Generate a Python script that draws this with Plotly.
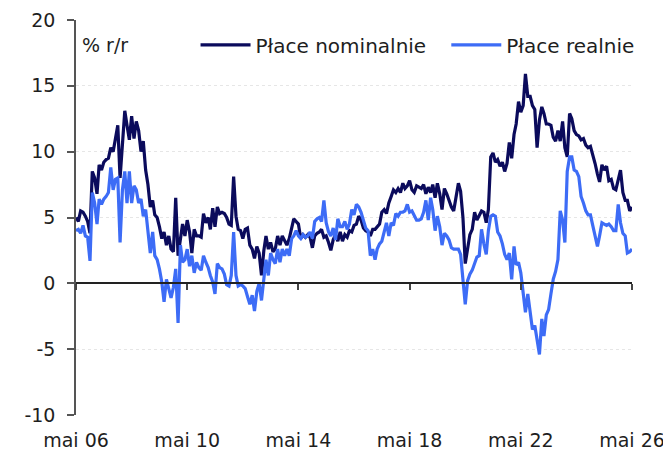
import pandas as pd
import plotly.graph_objects as go

# Monthly data, May 2006 - May 2026 (% r/r)
start_month = "2006-05-01"
nominal = [
    5.0, 4.7, 5.5, 5.4, 5.1, 4.7, 3.8, 8.5, 8.0, 6.8,
    9.0, 8.6, 9.2, 9.4, 9.5, 10.3, 10.0, 11.0, 12.0, 8.0,
    11.0, 13.1, 12.0, 10.9, 12.7, 11.0, 12.3, 11.6, 10.0, 10.8,
    8.6, 7.5, 5.8, 6.3, 5.2, 5.0, 4.3, 3.4, 3.9, 2.9,
    3.6, 2.6, 2.4, 6.5, 2.1, 3.2, 4.5, 3.6,
    4.8, 3.9, 2.3, 4.1, 3.6, 3.6, 3.5, 5.3, 4.6, 5.0,
    4.1, 5.7, 4.3, 5.8, 5.3, 5.4, 5.3, 5.0, 4.5, 4.4,
    8.1, 5.1, 4.1, 4.0, 3.4, 4.1, 4.2, 2.9, 2.6, 1.9,
    2.8, 2.3, 0.6, 2.5, 3.6, 2.6, 3.1, 2.4, 2.6, 3.6,
    2.9, 3.6, 3.2, 2.9, 3.4, 4.1, 4.9, 4.7, 4.5,
    3.4, 3.7, 3.5, 3.7, 3.5, 2.7, 3.6, 3.8, 3.9, 4.1,
    3.5, 3.6, 3.1, 2.5, 3.3, 3.7, 3.2, 3.9, 3.2, 3.7,
    3.5, 4.0, 3.9, 4.4, 4.5, 5.1, 4.8, 4.2, 4.0, 3.9,
    3.6, 4.1, 4.1, 4.3, 4.5, 5.4, 5.6, 5.3, 6.1, 6.6,
    7.1, 6.9, 7.2, 6.9, 7.6, 7.2, 7.4, 7.8, 7.1, 6.9,
    7.4, 7.3,
    7.2, 7.5, 6.8, 7.3, 6.9, 7.5, 6.5, 7.6, 6.8, 5.6,
    7.2, 6.8, 6.3, 5.8, 5.5, 6.6, 7.6, 7.0, 5.0, 1.5,
    2.7, 3.7, 4.1, 5.4, 4.8, 5.1, 5.5, 5.4, 4.6, 5.6,
    9.6, 9.9, 9.2, 9.4, 8.9, 9.2, 8.5, 9.1, 10.7,
    9.5, 11.3, 12.1, 13.8, 13.0, 13.5, 15.9, 14.2, 14.2, 13.5,
    13.2, 10.3, 12.4, 13.4, 12.9, 12.1, 12.1, 12.0, 11.1, 10.8,
    11.6, 10.8, 12.3, 10.3, 9.6, 12.9, 12.5, 11.6, 11.3, 11.2,
    10.9, 11.0, 10.5, 10.3, 10.4, 9.8, 9.1, 8.3, 7.7, 9.0,
    8.6, 8.9, 7.8, 7.9, 7.2, 7.1, 7.9, 8.6, 6.9, 6.3,
    6.3, 5.5, 5.8,
]
real = [
    4.0, 4.1, 3.8, 4.4, 3.6, 3.5, 1.7, 6.9, 6.1, 4.5,
    6.4, 6.0, 6.4, 6.6, 6.9, 8.8, 7.1, 7.9, 8.0, 3.1,
    7.1, 8.5, 6.1, 8.5, 6.1, 7.4, 7.1, 6.1, 6.4, 5.1,
    5.6, 4.1, 2.3, 3.9, 2.1, 1.8, 1.1, 0.1, -1.4, 0.3,
    -0.4, -1.1, -0.3, 1.1, -3.0, 2.9, 1.6, 1.8,
    2.6, 1.3, 2.1, 0.8, 1.6, 1.2, 1.0, 2.1, 1.6, 1.2,
    0.6, 0.1, -0.8, 1.5, 1.2, 1.1, 0.7, -0.1, -0.2, 0.6,
    3.9, 0.6, -0.2, -0.1, -0.2, -0.4, -1.0, -1.6, -0.9, -2.1,
    -0.6, 0.0, -1.3, 0.2, 1.8, 0.6, 2.3, 1.8, 1.5, 2.6,
    1.6, 2.6, 2.1, 2.6, 2.1, 3.4, 3.6, 4.0, 3.6,
    3.4, 3.7, 3.5, 3.6, 3.9, 3.4, 4.7, 4.9, 5.0, 4.7,
    6.3, 4.6, 3.9, 3.6, 4.2, 3.3, 4.9, 4.3, 4.3, 4.7,
    4.1, 4.5, 5.6, 5.2, 6.0, 5.8, 5.4, 4.8, 4.2, 4.0,
    2.1, 2.6, 1.8, 2.6, 3.0, 3.2, 3.9, 4.6, 3.6, 4.6,
    4.4, 5.3, 5.1, 5.4, 5.4, 5.5, 6.0, 5.4, 5.5, 5.2,
    4.8, 4.8,
    4.9, 5.4, 6.3, 4.8, 6.5, 5.6, 4.0, 5.1, 4.3, 2.9,
    3.8, 3.6, 3.3, 2.7, 2.6, 2.6, 2.6, 2.2, 0.0, -1.6,
    0.2, 0.7, 1.0, 1.5, 2.0, 2.1, 4.1, 3.0, 2.2, 4.0,
    5.1, 5.2, 5.1, 3.9, 3.6, 3.0, 2.2, 1.8, 2.3,
    0.3, 2.8, 1.4, 1.6, 0.8, -0.7, -2.2, -0.8, -2.4, -3.5,
    -3.2, -4.2, -5.4, -2.7, -4.0, -2.4, -2.0, -0.8, 0.3, 0.9,
    1.8, 5.5, 4.8, 3.1, 8.5, 9.6, 9.6, 8.6, 8.5, 8.1,
    6.6, 6.1, 5.5, 5.2, 5.2, 4.4, 3.7, 2.8, 3.6, 4.6,
    4.5, 4.4, 4.5, 4.3, 4.0, 4.0, 6.0, 4.6, 3.8, 3.6,
    2.3, 2.4, 2.6,
]
tick_dates = ["2006-05-01", "2010-05-01", "2014-05-01", "2018-05-01", "2022-05-01", "2026-05-01"]
tick_labels = ["mai 06", "mai 10", "mai 14", "mai 18", "mai 22", "mai 26"]
y_ticks = [-10, -5, 0, 5, 10, 15, 20]
y_tick_labels = ["-10", "-5", "0", "5", "10", "15", "20"]
series_names = ["Płace nominalnie", "Płace realnie"]
unit_label = "% r/r"

dates = pd.date_range(start_month, periods=len(nominal), freq="MS")

NAVY = "#0b0b5c"
BLUE = "#3d6cf6"
TXT = "#1e1e1e"
FONT = "DejaVu Sans"

fig = go.Figure()
fig.add_trace(go.Scatter(x=dates, y=nominal, name=series_names[0], mode="lines",
                         line=dict(color=NAVY, width=3.2), legend="legend"))
fig.add_trace(go.Scatter(x=dates, y=real, name=series_names[1], mode="lines",
                         line=dict(color=BLUE, width=3.2), legend="legend2"))
# helper (invisible) trace so the zero-line axis is drawn
fig.add_trace(go.Scatter(x=[dates[0]], y=[None], xaxis="x2", showlegend=False,
                         hoverinfo="skip", mode="lines"))

leg_common = dict(orientation="h", yanchor="middle", xanchor="left", y=0.937,
                  bgcolor="rgba(0,0,0,0)", font=dict(size=20, color=TXT), itemwidth=50)

xrange = [tick_dates[0], tick_dates[-1]]
fig.update_layout(
    width=663, height=444,
    margin=dict(l=68, r=39, t=12, b=37, autoexpand=False),
    paper_bgcolor="white", plot_bgcolor="white",
    font=dict(family=FONT, size=19, color=TXT),
    showlegend=True,
    legend=dict(x=0.215, **leg_common),
    legend2=dict(x=0.666, **leg_common),
    xaxis=dict(type="date", range=xrange, tickvals=tick_dates, ticktext=tick_labels,
               showgrid=False, zeroline=False, showline=False, automargin=False,
               tickfont=dict(size=19),
               ticks="outside", ticklen=8, tickcolor="rgba(0,0,0,0)"),
    xaxis2=dict(type="date", range=xrange, overlaying="x", anchor="free", position=1/3,
                tickvals=tick_dates, showticklabels=False, showgrid=False, zeroline=False,
                showline=True, linecolor="#222222", linewidth=1.5, automargin=False,
                ticks="outside", ticklen=6, tickcolor="#444444", tickwidth=1.5),
    yaxis=dict(range=[-10, 20], tickvals=y_ticks, ticktext=y_tick_labels, showgrid=True,
               gridcolor="#e6e6e6", griddash="dot", gridwidth=1, automargin=False,
               zeroline=False, showline=True, linecolor="#555555", linewidth=1.5,
               ticks="outside", ticklen=7, tickcolor="#555555", tickwidth=1.5,
               ticklabelstandoff=8),
    annotations=[dict(text=unit_label, xref="paper", yref="paper", x=0.007, y=0.937,
                      xanchor="left", yanchor="middle", showarrow=False,
                      font=dict(size=19, color=TXT))],
)

fig.write_html("out.html")
